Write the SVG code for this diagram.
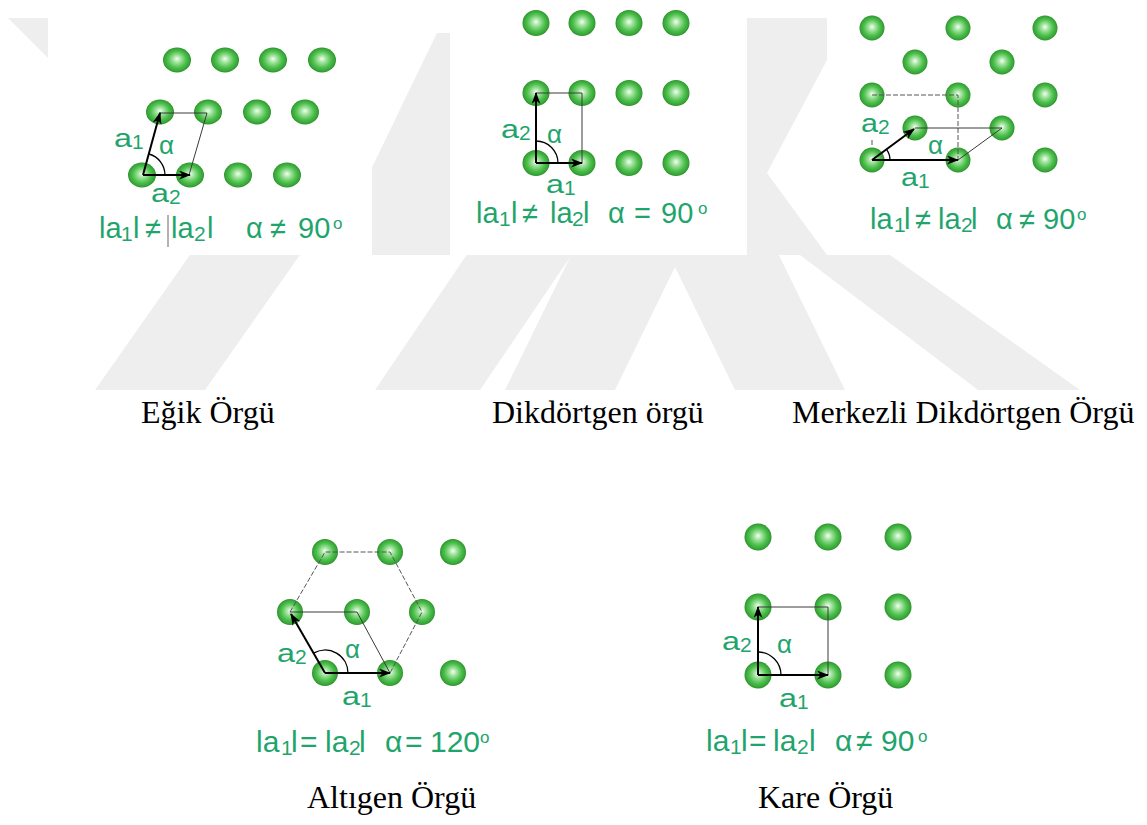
<svg xmlns="http://www.w3.org/2000/svg" width="1147" height="825" viewBox="0 0 1147 825">
<defs>
<radialGradient id="g" cx="0.5" cy="0.5" r="0.5" fx="0.5" fy="0.45">
<stop offset="0" stop-color="#f2fff2"/>
<stop offset="0.3" stop-color="#9fe29b"/>
<stop offset="0.65" stop-color="#4fc04f"/>
<stop offset="0.9" stop-color="#36a636"/>
<stop offset="1" stop-color="#2c8e2c"/>
</radialGradient>
<marker id="ah" viewBox="0 0 12 9" refX="11" refY="4.5" markerWidth="12" markerHeight="9" markerUnits="userSpaceOnUse" orient="auto">
<path d="M0,0 L12,4.5 L0,9 L3.5,4.5 z" fill="#000"/>
</marker>
</defs>
<style>
.wm{fill:#eeeeee}
.bg{fill:#ffffff}
.atom{fill:url(#g)}
.thin{stroke:#3a3a3a;stroke-width:1;fill:none}
.dash{stroke:#555;stroke-width:1;stroke-dasharray:5 2;fill:none}
.arr{stroke:#000;stroke-width:2;fill:none;marker-end:url(#ah)}
.arc{stroke:#000;stroke-width:1.3;fill:none}
.t{font-family:"Liberation Sans",Arial,sans-serif;fill:#1fa56c}
.f{font-size:29px}
.s{font-size:21px}
.o{font-size:17px}
.l{font-size:26px}
.ls{font-size:21px}
.cap{font-family:"Liberation Serif","Times New Roman",serif;font-size:32px;fill:#000}
</style>
<rect width="1147" height="825" fill="#fff"/>
<g id="watermark">
<polygon class="wm" points="8,18 48,18 48,58"/>
<polygon class="wm" points="348,30 458,30 205,390 95,390"/>
<polygon class="wm" points="437,33 450,33 450,255 372,255 372,167"/>
<polygon class="bg" points="372,18 450,18 450,33 437,33 372,167"/>
<polygon class="wm" points="375,390 480,390 600,213 495,213"/>
<polygon class="wm" points="505,390 675,43 845,390 735,390 675,267 615,390"/>
<polygon class="wm" points="747,18 827,18 827,60 767,173 827,255 747,255"/>
<polygon class="wm" points="800,255 890,255 1080,390 978,390"/>
</g>
<g id="panel-backgrounds">
<rect class="bg" x="48" y="0" width="324" height="255"/>
<rect class="bg" x="450" y="0" width="297" height="255"/>
<rect class="bg" x="827" y="0" width="320" height="255"/>
</g>

<g id="egik">
<ellipse class="atom" cx="177" cy="60" rx="14" ry="12.5"/>
<ellipse class="atom" cx="225" cy="60" rx="14" ry="12.5"/>
<ellipse class="atom" cx="273" cy="60" rx="14" ry="12.5"/>
<ellipse class="atom" cx="322" cy="60" rx="14" ry="12.5"/>
<ellipse class="atom" cx="160" cy="112" rx="14" ry="12.5"/>
<ellipse class="atom" cx="208" cy="112" rx="14" ry="12.5"/>
<ellipse class="atom" cx="257" cy="112" rx="14" ry="12.5"/>
<ellipse class="atom" cx="305" cy="112" rx="14" ry="12.5"/>
<ellipse class="atom" cx="142" cy="175" rx="14" ry="12.5"/>
<ellipse class="atom" cx="190" cy="175" rx="14" ry="12.5"/>
<ellipse class="atom" cx="238" cy="175" rx="14" ry="12.5"/>
<ellipse class="atom" cx="287" cy="175" rx="14" ry="12.5"/>
</g>

<g id="dikdortgen">
<ellipse class="atom" cx="536" cy="23" rx="13.5" ry="13"/>
<ellipse class="atom" cx="582" cy="23" rx="13.5" ry="13"/>
<ellipse class="atom" cx="629" cy="23" rx="13.5" ry="13"/>
<ellipse class="atom" cx="676" cy="23" rx="13.5" ry="13"/>
<ellipse class="atom" cx="536" cy="93" rx="13.5" ry="13"/>
<ellipse class="atom" cx="582" cy="93" rx="13.5" ry="13"/>
<ellipse class="atom" cx="629" cy="93" rx="13.5" ry="13"/>
<ellipse class="atom" cx="676" cy="93" rx="13.5" ry="13"/>
<ellipse class="atom" cx="536" cy="163" rx="13.5" ry="13"/>
<ellipse class="atom" cx="582" cy="163" rx="13.5" ry="13"/>
<ellipse class="atom" cx="629" cy="163" rx="13.5" ry="13"/>
<ellipse class="atom" cx="676" cy="163" rx="13.5" ry="13"/>
</g>

<g id="merkezli">
<ellipse class="atom" cx="872" cy="28" rx="12.5" ry="12.5"/>
<ellipse class="atom" cx="958" cy="28" rx="12.5" ry="12.5"/>
<ellipse class="atom" cx="1045" cy="28" rx="12.5" ry="12.5"/>
<ellipse class="atom" cx="915" cy="62" rx="12.5" ry="12.5"/>
<ellipse class="atom" cx="1002" cy="62" rx="12.5" ry="12.5"/>
<ellipse class="atom" cx="872" cy="95" rx="12.5" ry="12.5"/>
<ellipse class="atom" cx="958" cy="95" rx="12.5" ry="12.5"/>
<ellipse class="atom" cx="1045" cy="95" rx="12.5" ry="12.5"/>
<ellipse class="atom" cx="915" cy="128" rx="12.5" ry="12.5"/>
<ellipse class="atom" cx="1002" cy="128" rx="12.5" ry="12.5"/>
<ellipse class="atom" cx="872" cy="160" rx="12.5" ry="12.5"/>
<ellipse class="atom" cx="958" cy="160" rx="12.5" ry="12.5"/>
<ellipse class="atom" cx="1045" cy="160" rx="12.5" ry="12.5"/>
</g>

<g id="altigen">
<ellipse class="atom" cx="325" cy="552" rx="13" ry="13"/>
<ellipse class="atom" cx="390" cy="552" rx="13" ry="13"/>
<ellipse class="atom" cx="453" cy="552" rx="13" ry="13"/>
<ellipse class="atom" cx="290" cy="612" rx="13" ry="13"/>
<ellipse class="atom" cx="357" cy="612" rx="13" ry="13"/>
<ellipse class="atom" cx="422" cy="612" rx="13" ry="13"/>
<ellipse class="atom" cx="325" cy="673" rx="13" ry="13"/>
<ellipse class="atom" cx="390" cy="673" rx="13" ry="13"/>
<ellipse class="atom" cx="453" cy="673" rx="13" ry="13"/>
</g>

<g id="kare">
<ellipse class="atom" cx="758" cy="537" rx="13.5" ry="13.5"/>
<ellipse class="atom" cx="828" cy="537" rx="13.5" ry="13.5"/>
<ellipse class="atom" cx="898" cy="537" rx="13.5" ry="13.5"/>
<ellipse class="atom" cx="758" cy="607" rx="13.5" ry="13.5"/>
<ellipse class="atom" cx="828" cy="607" rx="13.5" ry="13.5"/>
<ellipse class="atom" cx="898" cy="607" rx="13.5" ry="13.5"/>
<ellipse class="atom" cx="758" cy="675" rx="13.5" ry="13.5"/>
<ellipse class="atom" cx="828" cy="675" rx="13.5" ry="13.5"/>
<ellipse class="atom" cx="898" cy="675" rx="13.5" ry="13.5"/>
</g>

<g id="connectors">
<g id="egik-lines">
<polyline class="thin" points="159,113 207,113 189,175"/>
<line class="arr" x1="143" y1="175" x2="160" y2="113"/>
<line class="arr" x1="143" y1="175" x2="190" y2="175"/>
<path class="arc" d="M165,175 A22,22 0 0,0 149,154"/>
<line x1="168" y1="215" x2="168" y2="247" stroke="#666" stroke-width="1"/>
</g>
<g id="dikdortgen-lines">
<polyline class="thin" points="536,93 582,93 582,163"/>
<line class="arr" x1="536" y1="163" x2="536" y2="93"/>
<line class="arr" x1="536" y1="163" x2="582" y2="163"/>
<path class="arc" d="M558,163 A22,22 0 0,0 536,141"/>
</g>
<g id="merkezli-lines">
<polyline class="dash" points="872,95 958,95 958,160"/>
<line class="dash" x1="872" y1="140" x2="872" y2="145"/>
<polyline class="thin" points="915,128 1002,128 958,160"/>
<line class="arr" x1="872" y1="160" x2="914" y2="129"/>
<line class="arr" x1="872" y1="160" x2="958" y2="160"/>
<path class="arc" d="M890,160 A18,18 0 0,0 886.5,149.3"/>
</g>
<g id="altigen-lines">
<polyline class="dash" points="290,612 325,552 390,552 422,612 390,673"/>
<polyline class="thin" points="290,612 357,612 390,673"/>
<line class="arr" x1="325" y1="673" x2="291" y2="614"/>
<line class="arr" x1="325" y1="673" x2="390" y2="673"/>
<path class="arc" d="M348,673 A23,23 0 0,0 313.5,653.1"/>
</g>
<g id="kare-lines">
<polyline class="thin" points="758,607 828,607 828,675"/>
<line class="arr" x1="758" y1="675" x2="758" y2="607"/>
<line class="arr" x1="758" y1="675" x2="828" y2="675"/>
<path class="arc" d="M781,675 A23,23 0 0,0 758,652"/>
</g>
</g>

<g id="labels">
<g id="egik-labels" class="t">
<text class="l" x="114" y="147" textLength="18" lengthAdjust="spacingAndGlyphs">a</text>
<text class="ls" x="132" y="149">1</text>
<text class="l" x="159" y="154">α</text>
<text class="l" x="151" y="202" textLength="18" lengthAdjust="spacingAndGlyphs">a</text>
<text class="ls" x="169" y="204">2</text>
<text class="f"><tspan x="99" y="238">la</tspan><tspan class="s" x="121" y="241">1</tspan><tspan x="133" y="238">l</tspan><tspan x="145" y="238">≠</tspan><tspan x="171" y="238">la</tspan><tspan class="s" x="194" y="241">2</tspan><tspan x="207" y="238">l</tspan><tspan x="246" y="238">α</tspan><tspan x="270" y="238">≠</tspan><tspan x="298" y="238">90</tspan><tspan class="o" x="333" y="229">o</tspan></text>
</g>
<g id="dikdortgen-labels" class="t">
<text class="l" x="501" y="138" textLength="18" lengthAdjust="spacingAndGlyphs">a</text>
<text class="ls" x="519" y="140">2</text>
<text class="l" x="547" y="143">α</text>
<text class="l" x="546" y="193" textLength="18" lengthAdjust="spacingAndGlyphs">a</text>
<text class="ls" x="564" y="195">1</text>
<text class="f"><tspan x="476" y="223">la</tspan><tspan class="s" x="499" y="226">1</tspan><tspan x="511" y="223">l</tspan><tspan x="522" y="223">≠</tspan><tspan x="550" y="223">la</tspan><tspan class="s" x="572" y="226">2</tspan><tspan x="583" y="223">l</tspan><tspan x="608" y="223">α</tspan><tspan x="634" y="223">=</tspan><tspan x="661" y="223">90</tspan><tspan class="o" x="698" y="214">o</tspan></text>
</g>
<g id="merkezli-labels" class="t">
<text class="l" x="861" y="132" textLength="17" lengthAdjust="spacingAndGlyphs">a</text>
<text class="ls" x="878" y="134">2</text>
<text class="l" x="928" y="154">α</text>
<text class="l" x="901" y="186" textLength="17" lengthAdjust="spacingAndGlyphs">a</text>
<text class="ls" x="918" y="188">1</text>
<text class="f"><tspan x="870" y="229">la</tspan><tspan class="s" x="894" y="232">1</tspan><tspan x="904" y="229">l</tspan><tspan x="915" y="229">≠</tspan><tspan x="938" y="229">la</tspan><tspan class="s" x="961" y="232">2</tspan><tspan x="971" y="229">l</tspan><tspan x="996" y="229">α</tspan><tspan x="1019" y="229">≠</tspan><tspan x="1043" y="229">90</tspan><tspan class="o" x="1077" y="220">o</tspan></text>
</g>
<g id="altigen-labels" class="t">
<text class="l" x="277" y="662" textLength="18" lengthAdjust="spacingAndGlyphs">a</text>
<text class="ls" x="295" y="664">2</text>
<text class="l" x="345" y="658">α</text>
<text class="l" x="342" y="705" textLength="18" lengthAdjust="spacingAndGlyphs">a</text>
<text class="ls" x="360" y="707">1</text>
<text class="f" style="font-size:30px"><tspan x="256" y="752">la</tspan><tspan class="s" x="281" y="755">1</tspan><tspan x="291" y="752">l</tspan><tspan x="300" y="752">=</tspan><tspan x="325" y="752">la</tspan><tspan class="s" x="349" y="755">2</tspan><tspan x="359" y="752">l</tspan><tspan x="385" y="752">α</tspan><tspan x="405" y="752">=</tspan><tspan x="430" y="752">120</tspan><tspan class="o" x="480" y="743">o</tspan></text>
</g>
<g id="kare-labels" class="t">
<text class="l" x="722" y="650" textLength="18" lengthAdjust="spacingAndGlyphs">a</text>
<text class="ls" x="740" y="652">2</text>
<text class="l" x="777" y="653">α</text>
<text class="l" x="779" y="707" textLength="18" lengthAdjust="spacingAndGlyphs">a</text>
<text class="ls" x="797" y="709">1</text>
<text class="f" style="font-size:30px"><tspan x="706" y="751">la</tspan><tspan class="s" x="730" y="754">1</tspan><tspan x="741" y="751">l</tspan><tspan x="749" y="751">=</tspan><tspan x="773" y="751">la</tspan><tspan class="s" x="797" y="754">2</tspan><tspan x="809" y="751">l</tspan><tspan x="835" y="751">α</tspan><tspan x="856" y="751">≠</tspan><tspan x="881" y="751">90</tspan><tspan class="o" x="918" y="742">o</tspan></text>
</g>
</g>

<g id="captions">
<text class="cap" x="141" y="423">Eğik Örgü</text>
<text class="cap" x="492" y="423">Dikdörtgen örgü</text>
<text class="cap" x="792" y="423">Merkezli Dikdörtgen Örgü</text>
<text class="cap" x="307" y="808">Altıgen Örgü</text>
<text class="cap" x="758" y="808">Kare Örgü</text>
</g>
</svg>
